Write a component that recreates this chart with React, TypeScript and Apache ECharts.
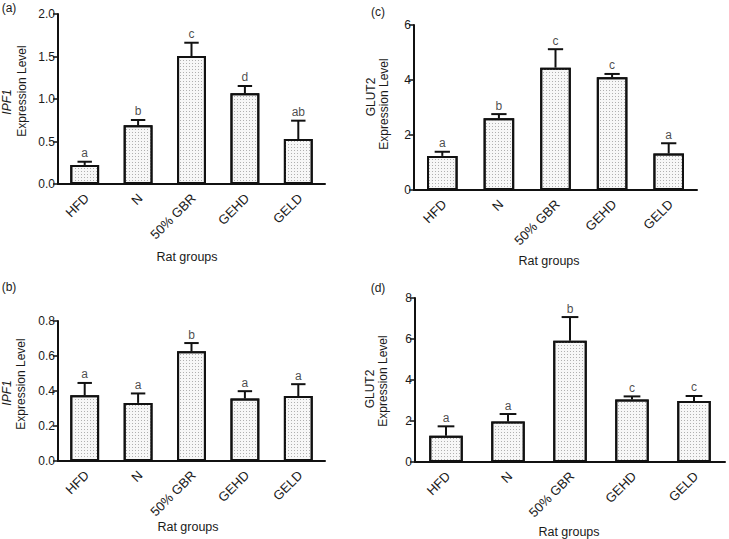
import React, { useEffect, useRef } from "react";
import * as echarts from "echarts";

const groups = ["HFD", "N", "50% GBR", "GEHD", "GELD"];

const aValues = [0.224, 0.69, 1.506, 1.067, 0.529];
const aErrors = [0.038, 0.063, 0.156, 0.086, 0.216];
const aLetters = ["a", "b", "c", "d", "ab"];

const bValues = [0.376, 0.332, 0.627, 0.357, 0.371];
const bErrors = [0.07, 0.054, 0.047, 0.042, 0.068];
const bLetters = ["a", "a", "b", "a", "a"];

const cValues = [1.24, 2.61, 4.45, 4.1, 1.33];
const cErrors = [0.15, 0.15, 0.67, 0.12, 0.37];
const cLetters = ["a", "b", "c", "c", "a"];

const dValues = [1.28, 1.98, 5.92, 3.05, 2.97];
const dErrors = [0.46, 0.36, 1.15, 0.15, 0.25];
const dLetters = ["a", "a", "b", "c", "c"];

const FONT = "'Liberation Sans', Arial, Helvetica, sans-serif";
const TXT = "#1a1a1a";
const INK = "#111111";
const LABEL_SIZE = 13;

const panels = [
  { values: aValues, errors: aErrors, letters: aLetters, max: 2, interval: 0.5, digits: 1,
    grid: { left: 58, top: 14, width: 267, height: 170 } },
  { values: bValues, errors: bErrors, letters: bLetters, max: 0.8, interval: 0.2, digits: 1,
    grid: { left: 58, top: 321, width: 267, height: 140 } },
  { values: cValues, errors: cErrors, letters: cLetters, max: 6, interval: 2, digits: 0,
    grid: { left: 414, top: 25, width: 283, height: 165 } },
  { values: dValues, errors: dErrors, letters: dLetters, max: 8, interval: 2, digits: 0,
    grid: { left: 415, top: 298, width: 310, height: 164 } },
];

function measure(text: string): number {
  const c = document.createElement("canvas").getContext("2d");
  if (!c) return text.length * LABEL_SIZE * 0.6;
  c.font = `${LABEL_SIZE}px ${FONT}`;
  return c.measureText(text).width;
}

function buildOption() {
  const widths = groups.map((g) => measure(g));
  const grid: any[] = [];
  const xAxis: any[] = [];
  const yAxis: any[] = [];
  const series: any[] = [];
  panels.forEach((p, k) => {
    grid.push({ ...p.grid, containLabel: false });
    xAxis.push({
      type: "category",
      gridIndex: k,
      data: groups,
      axisLine: { lineStyle: { color: INK, width: 2 } },
      axisTick: { alignWithLabel: true, length: 5, lineStyle: { color: INK, width: 1.5 } },
      axisLabel: { show: false },
      splitLine: { show: false },
    });
    yAxis.push({
      type: "value",
      gridIndex: k,
      min: 0,
      max: p.max,
      interval: p.interval,
      axisLine: { show: true, lineStyle: { color: INK, width: 2 } },
      axisTick: { show: true, length: 5, lineStyle: { color: INK, width: 1.5 } },
      axisLabel: {
        margin: 3, fontSize: 12, color: TXT, fontFamily: FONT,
        formatter: (v: number) => v.toFixed(p.digits),
      },
      splitLine: { show: false },
    });
    series.push({
      type: "bar",
      xAxisIndex: k,
      yAxisIndex: k,
      data: p.values,
      barCategoryGap: "46%",
      itemStyle: {
        color: "#f7f7f7",
        borderColor: INK,
        borderWidth: 2,
        decal: {
          symbol: "rect",
          symbolSize: 1,
          dashArrayX: [1, 2],
          dashArrayY: [1, 2],
          color: "#b0b0b0",
          rotation: 0,
        },
      },
      z: 2,
    });
    series.push({
      type: "custom",
      xAxisIndex: k,
      yAxisIndex: k,
      z: 3,
      itemStyle: { color: INK },
      data: p.values.map((v, i) => [i, v, v + p.errors[i]]),
      encode: { x: 0, y: [1, 2] },
      renderItem: (params: any, api: any) => {
        const i = api.value(0);
        const base = api.coord([i, api.value(1)]);
        const top = api.coord([i, api.value(2)]);
        const band = api.size([1, 0])[0];
        const half = band * 0.54 * 0.25;
        return {
          type: "group",
          children: [
            { type: "line", shape: { x1: base[0], y1: base[1], x2: top[0], y2: top[1] },
              style: { stroke: INK, lineWidth: 2 } },
            { type: "line", shape: { x1: top[0] - half, y1: top[1], x2: top[0] + half, y2: top[1] },
              style: { stroke: INK, lineWidth: 2 } },
          ],
        };
      },
    });
    // rotated category labels (45°), centred so that their right end sits under the tick
    series.push({
      type: "custom",
      xAxisIndex: k,
      yAxisIndex: k,
      z: 3,
      silent: true,
      clip: false,
      data: groups.map((g, i) => [i, 0]),
      encode: { x: 0, y: 1 },
      renderItem: (params: any, api: any) => {
        const i = api.value(0);
        const pt = api.coord([i, 0]);
        const h = widths[i] / 2 * Math.SQRT1_2;
        return {
          type: "text",
          x: pt[0] + 2 - h,
          y: pt[1] + 12 + h,
          rotation: Math.PI / 4,
          style: {
            text: groups[i], align: "center", verticalAlign: "middle",
            fontSize: LABEL_SIZE, fill: TXT, fontFamily: FONT,
          },
        };
      },
    });
    const letters = p.letters;
    series.push({
      type: "scatter",
      xAxisIndex: k,
      yAxisIndex: k,
      z: 4,
      silent: true,
      symbol: "circle",
      symbolSize: 1,
      itemStyle: { color: "rgba(0,0,0,0)" },
      data: p.values.map((v, i) => [i, v + p.errors[i]]),
      label: {
        show: true,
        position: "top",
        distance: 2,
        fontSize: 12,
        color: TXT,
        fontFamily: FONT,
        formatter: (d: any) => letters[d.dataIndex],
      },
    });
  });

  const txt = (text: string, x: number, y: number, extra: any = {}) => ({
    type: "text",
    x, y,
    style: { text, align: "center", verticalAlign: "middle", fontSize: 12, fill: TXT, fontFamily: FONT, ...extra },
  });
  const rot = (text: string, x: number, y: number, extra: any = {}) => ({
    ...txt(text, x, y, extra),
    rotation: Math.PI / 2,
  });

  const graphic = [
    txt("(a)", 9, 8),
    txt("(b)", 9, 287),
    txt("(c)", 378, 12),
    txt("(d)", 378, 288),
    rot("IPF1", 7, 102, { fontStyle: "italic" }),
    rot("Expression Level", 22, 91),
    rot("IPF1", 7, 393, { fontStyle: "italic" }),
    rot("Expression Level", 21, 384),
    rot("GLUT2", 371, 97),
    rot("Expression Level", 384, 104),
    rot("GLUT2", 370, 389),
    rot("Expression Level", 383, 381),
    txt("Rat groups", 187, 257, { fontSize: 12.5 }),
    txt("Rat groups", 188, 527, { fontSize: 12.5 }),
    txt("Rat groups", 549, 261, { fontSize: 12.5 }),
    txt("Rat groups", 569, 532, { fontSize: 12.5 }),
  ];

  return {
    animation: false,
    backgroundColor: "#ffffff",
    textStyle: { fontFamily: FONT },
    grid,
    xAxis,
    yAxis,
    series,
    graphic,
  };
}

export default function App() {
  const ref = useRef<HTMLDivElement>(null);
  useEffect(() => {
    document.body.style.margin = "0";
    if (!ref.current) return;
    const chart = echarts.init(ref.current, undefined, { renderer: "svg" });
    chart.setOption(buildOption() as any);
    return () => chart.dispose();
  }, []);
  return <div ref={ref} style={{ width: 729, height: 539 }} />;
}
